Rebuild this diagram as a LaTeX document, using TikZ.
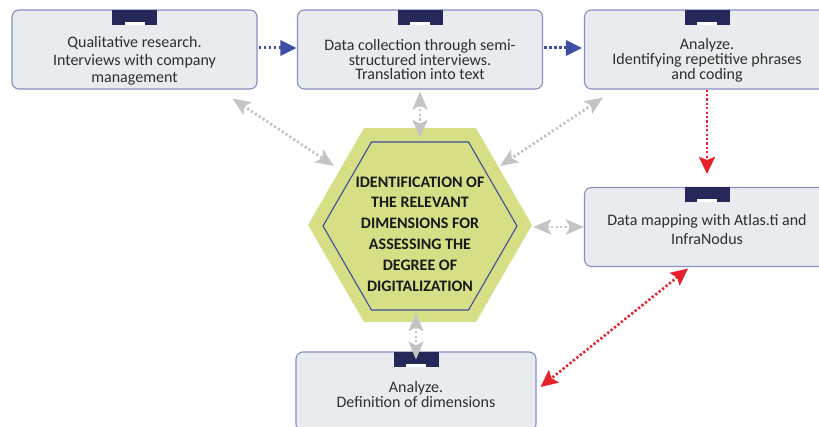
\documentclass[tikz,border=0pt]{standalone}
\usepackage{fontspec}
\setmainfont{Carlito}
\usetikzlibrary{arrows.meta,shapes.geometric,calc}
\definecolor{boxfill}{HTML}{E9ECEE}
\definecolor{boxline}{HTML}{8A8EC6}
\definecolor{tabcol}{HTML}{27285A}
\definecolor{txtcol}{HTML}{2E2E2E}
\definecolor{hexfill}{HTML}{D7DF86}
\definecolor{hexline}{HTML}{3F4C9E}
\definecolor{arrblue}{HTML}{3D4EA6}
\definecolor{arrred}{HTML}{E8202A}
\definecolor{arrgray}{HTML}{C4C4C4}
\newcommand{\ls}{\vphantom{Ajg}}
\tikzset{
  procbox/.style={draw=boxline, fill=boxfill, line width=1.1pt, rounded corners=7pt,
    minimum width=245pt, minimum height=79pt, inner sep=0pt},
  tabbox/.style={fill=tabcol, minimum width=45pt, minimum height=15pt, inner sep=0pt, anchor=north},
  boxtxt/.style={text=txtcol, align=center, inner sep=0pt, font=\fontsize{16}{#1}\selectfont},
  hexout/.style={regular polygon, regular polygon sides=6, minimum size=224pt, inner sep=0pt, fill=hexfill},
  hexin/.style={regular polygon, regular polygon sides=6, minimum size=194pt, inner sep=0pt, draw=hexline, line width=1.1pt},
  hextxt/.style={text=black!90, align=center, inner sep=0pt, font=\bfseries\fontsize{16}{20.8}\selectfont},
  barrow/.style={draw=arrblue, line width=3pt, dash pattern=on 2.6pt off 2.4pt, -{Triangle[length=16pt,width=15pt]}},
  rarrow/.style={draw=arrred, line width=2.6pt, dash pattern=on 2.2pt off 2.2pt, -{Stealth[length=17pt,width=16pt,inset=3pt]}},
  rarrows/.style={draw=arrred, line width=2.6pt, dash pattern=on 2.2pt off 2.2pt, {Stealth[length=17pt,width=16pt,inset=3pt]}-{Stealth[length=17pt,width=16pt,inset=3pt]}},
  garrows/.style={draw=arrgray, line width=2.8pt, dash pattern=on 2.2pt off 2.4pt, {Stealth[length=18pt,width=15pt,inset=4pt]}-{Stealth[length=18pt,width=15pt,inset=4pt]}},
}
\newcommand{\tabon}[2]{%
  \node[tabbox] (#2) at (#1.north) {};
  \fill[white] ($(#2.south)+(-10,0)$) rectangle ($(#2.south)+(10,-3)$);}
\begin{document}
\begin{tikzpicture}[x=1pt,y=-1pt]
\clip (0,0) rectangle (819,427);
\fill[white] (0,0) rectangle (819,427);
% boxes
\node[procbox] (box1) at (134.5,49.5) {};
\node[procbox] (box2) at (420,49.5) {};
\node[procbox] (box3) at (707,49.5) {};
\node[procbox] (box4) at (707,227) {};
\node[procbox, minimum width=240pt] (box5) at (416,391.5) {};
\tabon{box1}{tab1}
\tabon{box2}{tab2}
\tabon{box3}{tab3}
\tabon{box4}{tab4}
\tabon{box5}{tab5}
\node[boxtxt=17.5] (t1) at (134.5,61.3) {\ls Qualitative research.\\Interviews with company\\management\ls};
\node[boxtxt=14.5] (t2) at (420,61.3) {\ls Data collection through semi-\\structured interviews.\\Translation into text\ls};
\node[boxtxt=15] (t3) at (707,60.8) {\ls Analyze.\\Identifying repetitive phrases\\and coding\ls};
\node[boxtxt=19] (t4) at (707,231.3) {\ls Data mapping with Atlas.ti and\\InfraNodus\ls};
\node[boxtxt=15] (t5) at (416,395.8) {\ls Analyze.\\Definition of dimensions\ls};
% hexagon
\node[hexout] (hex) at (420,225) {};
\node[hexin] (hexi) at (420,226) {};
\node[hextxt] (htxt) at (420,234.8) {\ls IDENTIFICATION OF\\THE RELEVANT\\DIMENSIONS FOR\\ASSESSING THE\\DEGREE OF\\DIGITALIZATION\ls};
% blue arrows
\draw[barrow] ($(box1.east)+(1,-1.5)$) -- ($(box2.west)+(-0.5,-1.5)$);
\draw[barrow] ($(box2.east)+(1,-1.5)$) -- ($(box3.west)+(-2,-1.5)$);
% red arrows
\draw[rarrow] (box3.south) -- ($(box4.north)+(0,-13)$);
\draw[rarrows] ($(box4.south)+(-19,1.5)$) -- ($(box5.east)+(4,-4.5)$);
% gray arrows
\draw[garrows] ($(box1.south east)+(-25,9)$) -- ($(hex.center)+(-86,-59)$);
\draw[garrows] ($(box2.south)+(0,2)$) -- ($(hex.north)+(0,10)$);
\draw[garrows] ($(box3.south west)+(19,8)$) -- ($(hex.center)+(80,-59)$);
\draw[garrows] ($(hex.east)+(1,2)$) -- ($(box4.west)+(0,0)$);
\draw[garrows] ($(hex.south)+(-4,-9)$) -- ($(box5.north)+(0,8)$);
\end{tikzpicture}
\end{document}
